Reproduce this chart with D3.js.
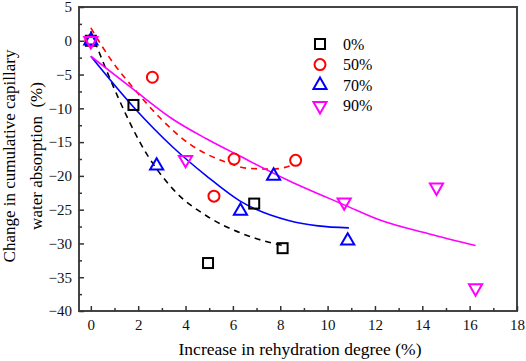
<!DOCTYPE html>
<html>
<head>
<meta charset="utf-8">
<script src="https://cdn.jsdelivr.net/npm/d3@7"></script>
<style>
  body { margin: 0; background: #fff; }
</style>
</head>
<body>
<div id="chart"></div>
<script>
// Series labels
const seriesNames = ["0%", "50%", "70%", "90%"];

// Measured points [rehydration increase, change in absorption]
const pts0 = [[0, 0], [1.8, -9.5], [4.95, -32.9], [6.9, -24.1], [8.1, -30.7]];
const pts50 = [[0, 0], [2.6, -5.4], [5.2, -23.0], [6.05, -17.5], [8.65, -17.7]];
const pts70 = [[0, 0], [2.78, -18.5], [6.32, -25.2], [7.72, -20.0], [10.85, -29.6]];
const pts90 = [[0, 0], [4.0, -17.6], [10.7, -23.9], [14.6, -21.7], [16.25, -36.6]];

// Fitted curves
const fit0 = [[0, 1.4], [0.88, -6.2], [1.52, -11.2], [2.1, -15.2], [3.48, -22.0], [4.88, -25.9], [6.29, -28.4], [7.0, -29.3], [8.1, -30.3]];
const fit50 = [[0, 1.9], [0.95, -3.3], [1.8, -7.0], [2.92, -11.4], [4.18, -15.3], [5.58, -17.8], [6.71, -18.9], [7.7, -19.0], [8.6, -18.3]];
const fit70 = [[0, -2.3], [1.8, -9.8], [3.48, -15.8], [4.88, -20.0], [6.29, -23.7], [8.39, -26.65], [9.6, -27.4], [10.9, -27.7]];
const fit90 = [[0, -2.3], [1.8, -7.2], [3.48, -11.65], [4.88, -14.5], [6.29, -17.06], [8.39, -20.75], [10.78, -24.4], [12.18, -26.5], [14.3, -28.6], [16.25, -30.3]];

// Axis ticks
const xTicks = [0, 2, 4, 6, 8, 10, 12, 14, 16, 18];
const yTicks = [5, 0, -5, -10, -15, -20, -25, -30, -35, -40];

const colors = ["#000000", "#ff0000", "#0000ff", "#ff00ff"];
const shapes = ["square", "circle", "up", "down"];
const FONT = "'Liberation Serif', 'Times New Roman', serif";

const W = 526, H = 361;
const margin = { top: 7, right: 9, bottom: 50, left: 79 };
const innerW = W - margin.left - margin.right;
const innerH = H - margin.top - margin.bottom;

const svg = d3.select("#chart").append("svg")
    .attr("width", W)
    .attr("height", H)
    .style("font-family", FONT);

const g = svg.append("g")
    .attr("transform", `translate(${margin.left},${margin.top})`);

const x = d3.scaleLinear().domain([-0.5, 18]).range([0, innerW]);
const y = d3.scaleLinear().domain([-40, 5]).range([innerH, 0]);

// Frame
g.append("rect")
    .attr("width", innerW)
    .attr("height", innerH)
    .attr("fill", "none")
    .attr("stroke", "#444")
    .attr("stroke-width", 2);

// Minor ticks (inward)
g.append("g")
    .attr("transform", `translate(0,${innerH})`)
    .call(d3.axisBottom(x).tickValues(d3.range(1, 18, 2)).tickSize(-3).tickSizeOuter(0).tickFormat(""))
    .call(a => a.select(".domain").remove());
g.append("g")
    .call(d3.axisLeft(y).tickValues(d3.range(-37.5, 5, 5)).tickSize(-3).tickSizeOuter(0).tickFormat(""))
    .call(a => a.select(".domain").remove());

// Major ticks
const xAxis = g.append("g")
    .attr("transform", `translate(0,${innerH})`)
    .call(d3.axisBottom(x).tickValues(xTicks).tickSize(-5).tickSizeOuter(0).tickPadding(8));
xAxis.select(".domain").remove();

const yAxis = g.append("g")
    .call(d3.axisLeft(y).tickValues(yTicks).tickSize(-5).tickSizeOuter(0).tickPadding(7));
yAxis.select(".domain").remove();

g.selectAll(".tick text")
    .attr("font-family", FONT)
    .style("font-size", "15px")
    .attr("fill", "#111");
g.selectAll(".tick line").attr("stroke", "#333").attr("stroke-width", 1.5);

// Fitted curves
const line = d3.line()
    .x(d => x(d[0]))
    .y(d => y(d[1]))
    .curve(d3.curveMonotoneX);

const fits = [fit0, fit50, fit70, fit90];
const dashes = ["6,5", "6,5", null, null];
fits.forEach((f, i) => {
    g.append("path")
        .datum(f)
        .attr("fill", "none")
        .attr("stroke", colors[i])
        .attr("stroke-width", 1.6)
        .attr("stroke-dasharray", dashes[i])
        .attr("d", line);
});

// Marker drawing helper
function marker(sel, shape, color) {
    if (shape === "square") {
        sel.append("rect")
            .attr("x", -5).attr("y", -5)
            .attr("width", 10).attr("height", 10);
    } else if (shape === "circle") {
        sel.append("circle").attr("r", 5.5);
    } else {
        sel.append("path")
            .attr("d", d3.symbol(d3.symbolTriangle, 75)())
            .attr("transform", shape === "down" ? "rotate(180)" : null);
    }
    sel.selectAll("rect,circle,path")
        .attr("fill", "none")
        .attr("stroke", color)
        .attr("stroke-width", 2);
}

const allPts = [pts0, pts50, pts70, pts90];
allPts.forEach((pts, i) => {
    g.selectAll(null)
        .data(pts)
        .enter()
        .append("g")
        .attr("transform", d => `translate(${x(d[0])},${y(d[1])})`)
        .each(function () { marker(d3.select(this), shapes[i], colors[i]); });
});

// Legend
const legend = svg.append("g").attr("transform", "translate(320,44)");
seriesNames.forEach((name, i) => {
    const row = legend.append("g").attr("transform", `translate(0,${i * 20.6})`);
    marker(row, shapes[i], colors[i]);
    row.append("text")
        .attr("x", 23)
        .attr("y", 5.5)
        .style("font-size", "16px")
        .text(name);
});

// Axis titles
svg.append("text")
    .attr("x", margin.left + innerW / 2 + 2)
    .attr("y", 355)
    .attr("text-anchor", "middle")
    .style("font-size", "17.5px")
    .text("Increase in rehydration degree (%)");

const yTitle = svg.append("text")
    .attr("transform", `translate(0,${margin.top + innerH / 2 - 3}) rotate(-90)`)
    .attr("text-anchor", "middle")
    .style("font-size", "17px");
yTitle.append("tspan").attr("x", 0).attr("y", 15).text("Change in cumulative capillary");
yTitle.append("tspan").attr("x", 0).attr("y", 42).attr("xml:space", "preserve").text("water absorption  (%)");
</script>
</body>
</html>
